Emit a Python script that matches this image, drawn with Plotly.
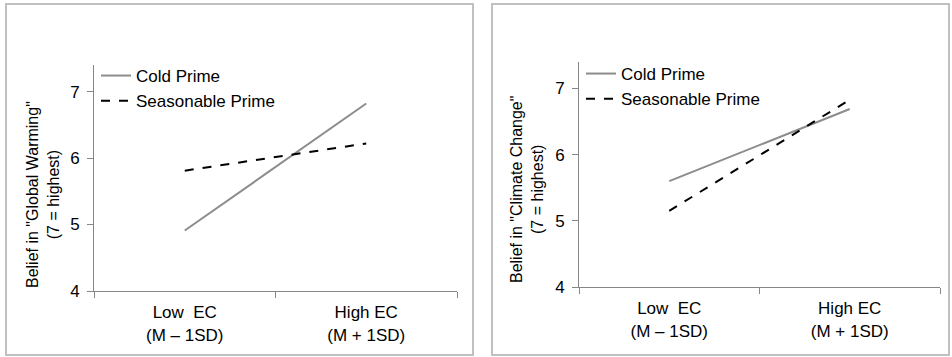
import plotly.graph_objects as go

categories = ["Low  EC<br>(M – 1SD)", "High EC<br>(M + 1SD)"]
series_names = ["Cold Prime", "Seasonable Prime"]
gw_cold = [4.91, 6.82]
gw_seasonable = [5.81, 6.22]
cc_cold = [5.60, 6.69]
cc_seasonable = [5.15, 6.83]
y_ticks = [4, 5, 6, 7]
y_titles = ['Belief in "Global Warming"<br>(7 = highest)',
            'Belief in "Climate Change"<br>(7 = highest)']

W, H = 952, 357
FONT = "Liberation Sans, Arial, sans-serif"
FS = 17
cold_style = dict(color="#8c8c8c", width=2)
seas_style = dict(color="#000000", width=2, dash="dash")

fig = go.Figure()
fig.add_trace(go.Scatter(x=categories, y=gw_cold, mode="lines", name=series_names[0],
                         line=cold_style, xaxis="x", yaxis="y", legend="legend"))
fig.add_trace(go.Scatter(x=categories, y=gw_seasonable, mode="lines", name=series_names[1],
                         line=seas_style, xaxis="x", yaxis="y", legend="legend"))
fig.add_trace(go.Scatter(x=categories, y=cc_cold, mode="lines", name=series_names[0],
                         line=cold_style, xaxis="x2", yaxis="y2", legend="legend2"))
fig.add_trace(go.Scatter(x=categories, y=cc_seasonable, mode="lines", name=series_names[1],
                         line=seas_style, xaxis="x2", yaxis="y2", legend="legend2"))

axis_line = "#868686"
def xax(domain, anchor):
    return dict(domain=domain, anchor=anchor, type="category", range=[-0.5, 1.5],
                showline=True, linecolor=axis_line, linewidth=1, ticks="outside",
                tickson="boundaries", ticklen=6, tickcolor=axis_line, showgrid=False,
                zeroline=False, tickfont=dict(family=FONT, size=FS, color="#000"),
                ticklabelstandoff=6, fixedrange=True, automargin=False)
def yax(domain, anchor):
    return dict(domain=domain, anchor=anchor, range=[4, 7.4], tickvals=y_ticks,
                showline=True, linecolor=axis_line, linewidth=1, ticks="outside",
                ticklen=6, tickcolor=axis_line, showgrid=False, zeroline=False,
                tickfont=dict(family=FONT, size=FS, color="#000"), ticklabelstandoff=4,
                fixedrange=True, automargin=False)

fig.update_layout(
    template="none",
    width=W, height=H, margin=dict(l=0, r=0, t=0, b=0, pad=0, autoexpand=False),
    paper_bgcolor="white", plot_bgcolor="white",
    font=dict(family=FONT, color="#000"),
    xaxis=xax([94 / W, 457 / W], "y"),
    yaxis=yax([1 - 291 / H, 1 - 65 / H], "x"),
    xaxis2=xax([579 / W, 940 / W], "y2"),
    yaxis2=yax([1 - 287 / H, 1 - 62 / H], "x2"),
    legend=dict(x=96 / W, y=1 - 58 / H, xanchor="left", yanchor="top",
                bgcolor="rgba(0,0,0,0)", font=dict(family=FONT, size=FS),
                tracegroupgap=0, itemwidth=30),
    legend2=dict(x=581 / W, y=1 - 56 / H, xanchor="left", yanchor="top",
                 bgcolor="rgba(0,0,0,0)", font=dict(family=FONT, size=FS),
                 tracegroupgap=0, itemwidth=30),
    showlegend=True,
)

# y-axis titles as rotated annotations
for xpos, ypos, txt in [(43 / W, 1 - 195 / H, y_titles[0]), (527 / W, 1 - 190 / H, y_titles[1])]:
    fig.add_annotation(x=xpos, y=ypos, xref="paper", yref="paper", text=txt,
                       textangle=-90, showarrow=False, align="center",
                       xanchor="center", yanchor="middle",
                       font=dict(family=FONT, size=16, color="#000"))

# panel borders
for x0, x1 in [(6, 473), (492, 949)]:
    fig.add_shape(type="rect", xref="paper", yref="paper",
                  x0=x0 / W, x1=x1 / W, y0=1 - 355 / H, y1=1 - 4 / H,
                  line=dict(color="#c0c0c0", width=2), fillcolor="rgba(0,0,0,0)")

fig.write_html("out.html", config={"displayModeBar": False},
               post_script="document.body.style.margin='0';document.body.style.overflow='hidden';")
